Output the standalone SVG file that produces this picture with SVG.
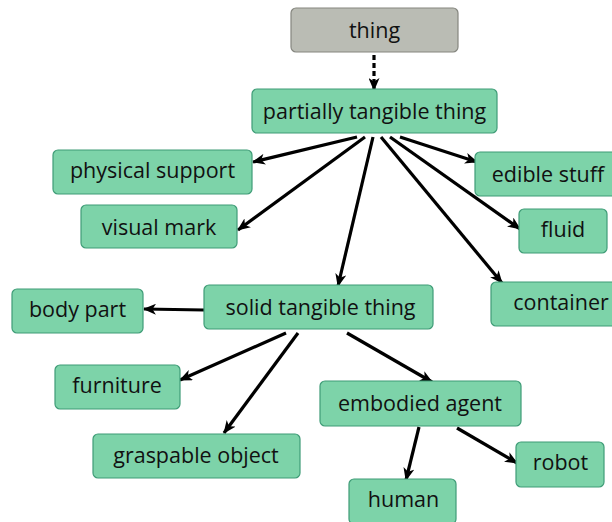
<svg xmlns="http://www.w3.org/2000/svg" width="612" height="522" viewBox="0 0 612 522">
<defs>
<style>
.n rect{fill:#7dd3a9;stroke:#3f9c77;stroke-width:1.2}
.g rect{fill:#babcb4;stroke:#85867f;stroke-width:1.2}
text{font-family:"Open Sans","DejaVu Sans",sans-serif;font-size:21.5px;fill:#111;text-anchor:middle}
.e line{stroke:#000;stroke-width:3.2;marker-end:url(#ah)}
</style>
<marker id="ah" viewBox="0 0 13 11" refX="12" refY="5.5" markerWidth="13" markerHeight="11" markerUnits="userSpaceOnUse" orient="auto">
<path d="M0,0 L13,5.5 L0,11 L3.5,5.5 z" fill="#000"/>
</marker>
</defs>
<rect width="612" height="522" fill="#fff"/>
<g class="e" id="edges">
<line x1="374" y1="55" x2="374" y2="90" stroke-dasharray="5,3"/>
<line x1="357" y1="137" x2="253" y2="162"/>
<line x1="365" y1="137" x2="238" y2="230"/>
<line x1="373" y1="137" x2="338" y2="286"/>
<line x1="381" y1="137" x2="502" y2="283"/>
<line x1="390" y1="137" x2="520" y2="229"/>
<line x1="400" y1="137" x2="477" y2="162"/>
<line x1="204" y1="310" x2="144" y2="309"/>
<line x1="286" y1="333" x2="180" y2="380"/>
<line x1="298" y1="333" x2="224" y2="433"/>
<line x1="347" y1="333" x2="432" y2="382"/>
<line x1="419" y1="427" x2="406" y2="480"/>
<line x1="457" y1="428" x2="517" y2="463"/>
</g>
<g class="g" id="thing"><rect x="291" y="8" width="167" height="44" rx="5"/><text x="374.5" y="38">thing</text></g>
<g class="n" id="partially_tangible_thing"><rect x="252" y="89" width="245" height="44" rx="5"/><text x="374.5" y="119">partially tangible thing</text></g>
<g class="n" id="physical_support"><rect x="53" y="150" width="199" height="44" rx="5"/><text x="152.5" y="178">physical support</text></g>
<g class="n" id="visual_mark"><rect x="81" y="205" width="156" height="43" rx="5"/><text x="159" y="235">visual mark</text></g>
<g class="n" id="edible_stuff"><rect x="475" y="152" width="145" height="44" rx="5"/><text x="548" y="182">edible stuff</text></g>
<g class="n" id="fluid"><rect x="519" y="209" width="88" height="44" rx="5"/><text x="563" y="237">fluid</text></g>
<g class="n" id="container"><rect x="491" y="282" width="130" height="44" rx="5"/><text x="561" y="310">container</text></g>
<g class="n" id="body_part"><rect x="12" y="289" width="131" height="44" rx="5"/><text x="77.5" y="317">body part</text></g>
<g class="n" id="solid_tangible_thing"><rect x="204" y="285" width="229" height="44" rx="5"/><text x="320.5" y="315">solid tangible thing</text></g>
<g class="n" id="furniture"><rect x="55" y="365" width="125" height="44" rx="5"/><text x="117" y="393">furniture</text></g>
<g class="n" id="embodied_agent"><rect x="320" y="381" width="201" height="45" rx="5"/><text x="420" y="411">embodied agent</text></g>
<g class="n" id="graspable_object"><rect x="93" y="434" width="207" height="44" rx="5"/><text x="196" y="463">graspable object</text></g>
<g class="n" id="robot"><rect x="516" y="442" width="88" height="45" rx="5"/><text x="560.5" y="470">robot</text></g>
<g class="n" id="human"><rect x="349" y="479" width="107" height="45" rx="5"/><text x="403.5" y="507">human</text></g>
</svg>
